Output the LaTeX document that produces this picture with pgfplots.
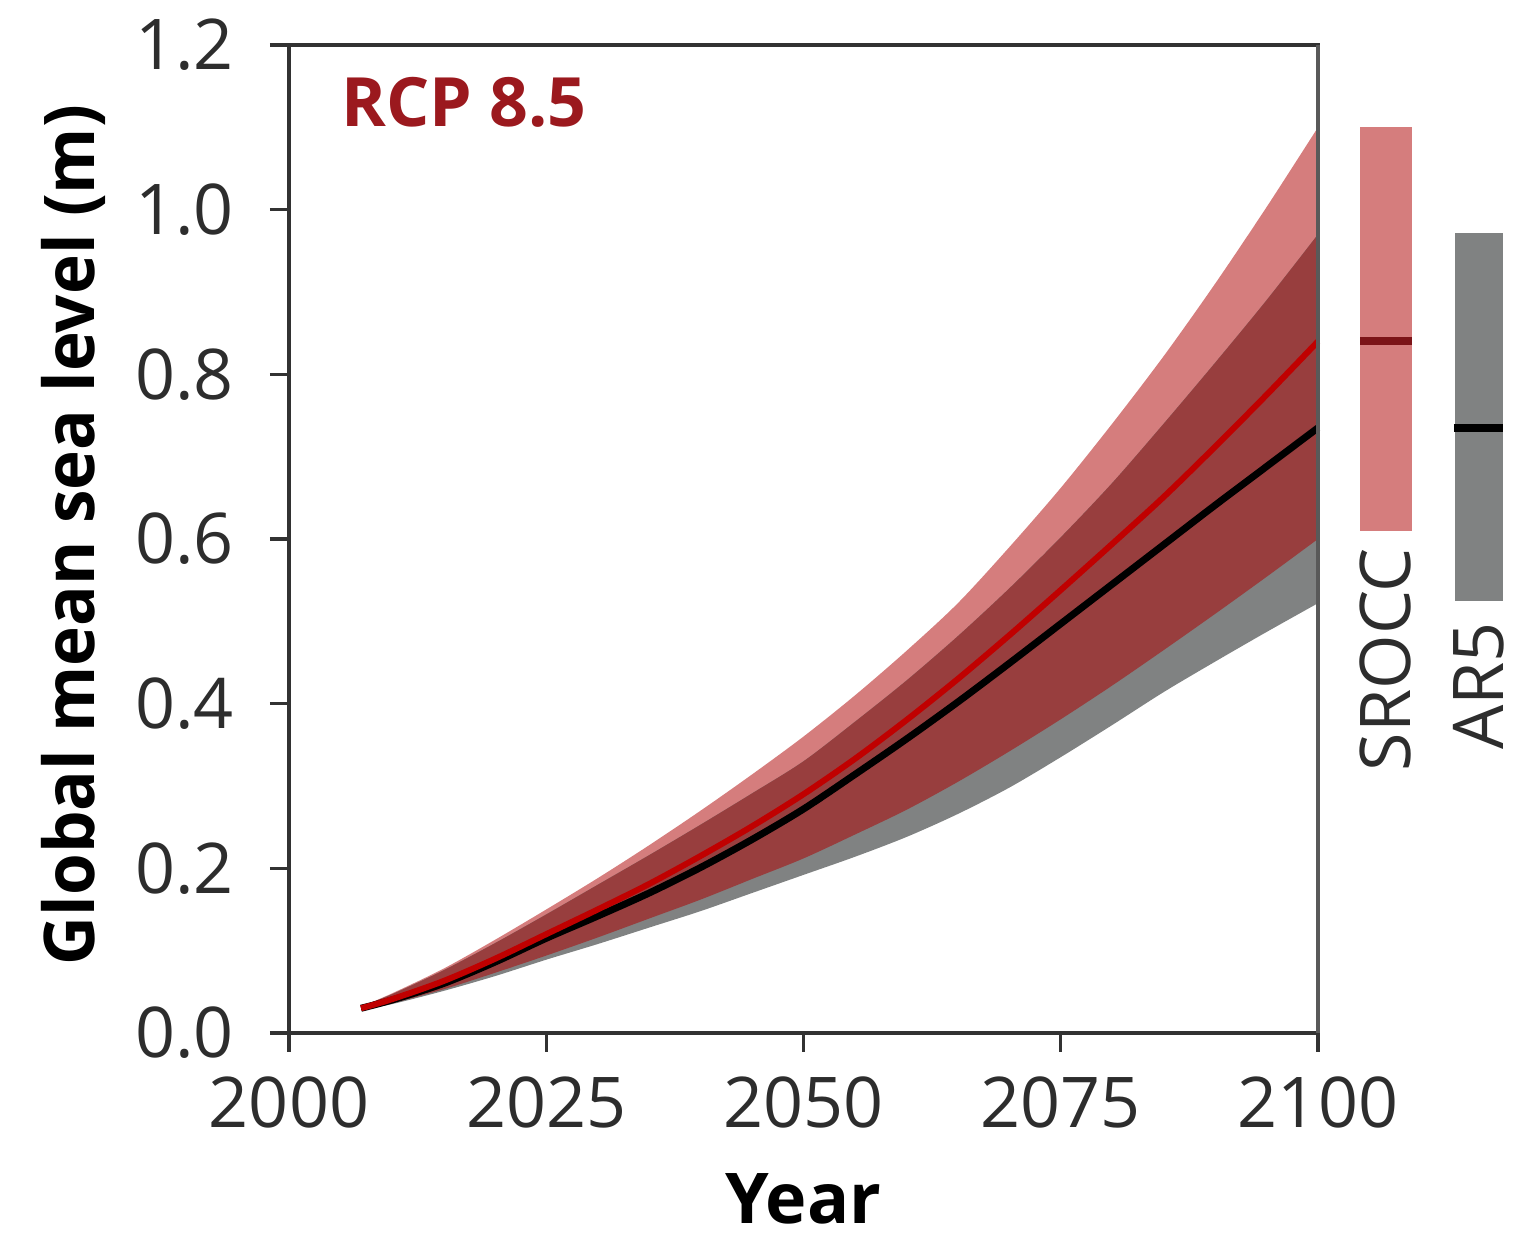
\documentclass[border=0pt]{standalone}
\usepackage{graphicx}
\usepackage{pgfplots}
\pgfplotsset{compat=1.18}
\usepgfplotslibrary{fillbetween}
\usepackage{pgfplotstable}
\usepackage{fontspec}
\setmainfont{Open Sans}

\definecolor{srpink}{RGB}{213,125,125}
\definecolor{overlap}{RGB}{152,62,62}
\definecolor{ar5gray}{RGB}{128,130,130}
\definecolor{srred}{RGB}{192,0,0}
\definecolor{rcpred}{RGB}{155,25,30}
\definecolor{axgray}{RGB}{50,50,50}
\definecolor{txtgray}{RGB}{45,45,45}

% year, AR5 (low, median, high), SROCC (low, median, high)
\pgfplotstableread{
year  arlo   armed  arhi   srlo   srmed  srhi
2007  0.028  0.030  0.032  0.028  0.030  0.032
2010  0.035  0.040  0.047  0.036  0.041  0.048
2015  0.051  0.060  0.076  0.053  0.063  0.078
2020  0.069  0.086  0.109  0.073  0.090  0.113
2025  0.089  0.115  0.144  0.094  0.120  0.150
2030  0.108  0.142  0.180  0.116  0.150  0.188
2035  0.128  0.170  0.216  0.139  0.181  0.228
2040  0.148  0.201  0.253  0.162  0.215  0.270
2045  0.170  0.235  0.291  0.187  0.251  0.314
2050  0.192  0.272  0.330  0.212  0.290  0.360
2055  0.214  0.314  0.378  0.241  0.333  0.410
2060  0.238  0.357  0.428  0.271  0.380  0.464
2065  0.266  0.402  0.482  0.305  0.430  0.522
2070  0.298  0.449  0.540  0.342  0.483  0.590
2075  0.335  0.497  0.602  0.381  0.538  0.662
2080  0.374  0.545  0.668  0.422  0.594  0.740
2085  0.414  0.593  0.740  0.465  0.651  0.822
2090  0.451  0.641  0.814  0.509  0.712  0.910
2095  0.487  0.688  0.890  0.554  0.775  1.003
2100  0.522  0.735  0.970  0.600  0.840  1.100
}\rcpdata

\begin{document}
\begin{tikzpicture}
\begin{axis}[
  scale only axis,
  width=257.25pt, height=247pt,
  xmin=2000, xmax=2100,
  ymin=0, ymax=1.2,
  clip=false,
  axis line style={axgray, line width=0.85pt},
  xtick={2000,2025,...,2100},
  ytick={0,0.2,...,1.2},
  tick align=outside,
  tick pos=left,
  major tick length=4.75pt,
  tick style={axgray, line width=0.85pt},
  /pgf/number format/assume math mode=true,
  yticklabel style={xshift=-5.5pt, /pgf/number format/.cd, fixed, fixed zerofill, precision=1},
  xticklabel style={yshift=-2.75pt, /pgf/number format/1000 sep={}},
  tick label style={font=\fontsize{17.5}{21}\selectfont, text=txtgray},
  xlabel={\textbf{Year}},
  ylabel={\resizebox{215pt}{\height}{\textbf{Global mean sea level (m)}}},
  every axis x label/.style={at={(axis description cs:0.5,-0.168)}, anchor=center, font=\fontsize{17.5}{21}\selectfont},
  every axis y label/.style={at={(axis description cs:-0.209,0.504)}, anchor=center, rotate=90, font=\fontsize{17.5}{21}\selectfont},
]
\addplot[name path=srhi, draw=none, smooth] table[x=year, y=srhi] {\rcpdata};
\addplot[name path=srlo, draw=none, smooth] table[x=year, y=srlo] {\rcpdata};
\addplot[name path=arhi, draw=none, smooth] table[x=year, y=arhi] {\rcpdata};
\addplot[name path=arlo, draw=none, smooth] table[x=year, y=arlo] {\rcpdata};
\addplot[srpink, draw=none] fill between[of=srhi and srlo];
\addplot[ar5gray, draw=none] fill between[of=arhi and arlo];
\addplot[overlap, draw=none] fill between[of=arhi and srlo];
\addplot[black, line width=1.75pt, smooth] table[x=year, y=armed] {\rcpdata};
\addplot[srred, line width=1.5pt, smooth] table[x=year, y=srmed] {\rcpdata};

% likely ranges in 2100
\addplot[srpink, line width=13pt] coordinates {(2106.6,0.61) (2106.6,1.10)};
\addplot[ar5gray, line width=12pt] coordinates {(2115.6,0.525) (2115.6,0.972)};
\addplot[rcpred!80!black, line width=2pt] coordinates {(2104.1,0.84) (2109.1,0.84)};
\addplot[black, line width=2pt] coordinates {(2113.2,0.735) (2118.0,0.735)};

\draw[black!65, line width=1.2pt] (rel axis cs:1,0) -- (rel axis cs:1,1);

\node[rotate=90, anchor=east, inner sep=0pt, text=txtgray, font=\fontsize{17.5}{21}\selectfont] at (axis cs:2106.6,0.59) {SROCC};
\node[rotate=90, anchor=east, inner sep=0pt, text=txtgray, font=\fontsize{17.5}{21}\selectfont] at (axis cs:2115.6,0.50) {AR5};
\node[anchor=west, inner sep=0pt, text=rcpred, font=\bfseries\fontsize{17}{20}\selectfont] at (axis cs:2005.0,1.13) {RCP 8.5};
\end{axis}
\path (-72.25pt,-48.25pt) rectangle (308.75pt,258.25pt);
\end{tikzpicture}
\end{document}
